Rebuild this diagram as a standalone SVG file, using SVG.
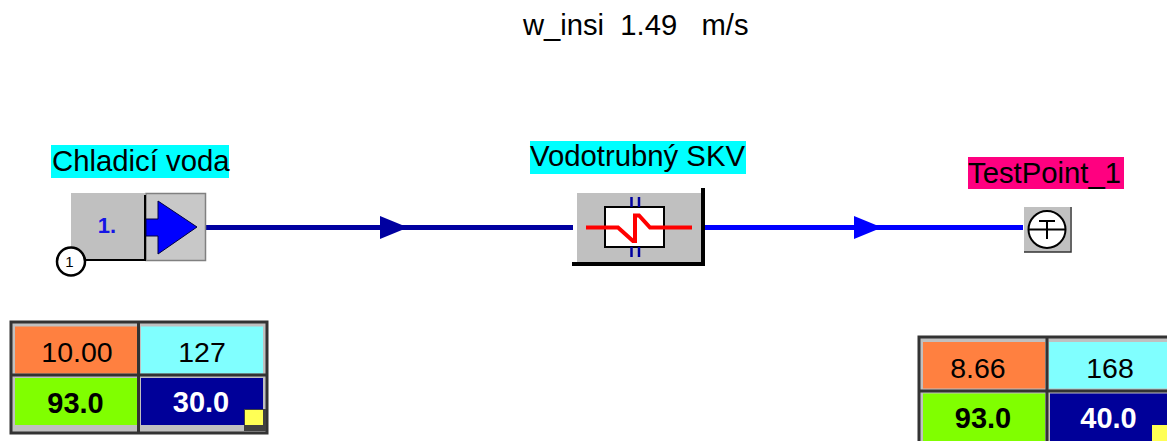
<svg xmlns="http://www.w3.org/2000/svg" width="1167" height="441" viewBox="0 0 1167 441">
<style>
text{font-family:"Liberation Sans",Arial,sans-serif;fill:#000}
.lbl{font-size:29.300px}
.val{font-size:28.500px;text-anchor:middle}
.b{font-size:29px;font-weight:bold}
.grid{fill:none;stroke:#333;stroke-width:3}
.panel{fill:#c0c0c0}
.dk{fill:none;stroke:#000;stroke-width:2}
</style>
<rect width="1167" height="441" fill="#fff"/>
<text id="title" x="523" y="35" font-size="29.200" xml:space="preserve">w_insi  1.49   m/s</text>
<g id="connectors">
<line x1="206" y1="227.500" x2="573" y2="227.500" stroke="#0000a0" stroke-width="5"/>
<polygon points="380,216 408,227.500 380,239" fill="#0000a0"/>
<line x1="705" y1="227.500" x2="1023" y2="227.500" stroke="#0000ff" stroke-width="5"/>
<polygon points="854,216 882,227.500 854,239" fill="#0000ff"/>
</g>
<g id="source">
<rect x="51" y="145" width="178" height="33" fill="#00ffff"/>
<text class="lbl" x="52" y="171">Chladicí voda</text>
<rect class="panel" x="71" y="193" width="74" height="67"/>
<rect x="146" y="193.500" width="59.500" height="67" fill="#c8c8c8" stroke="#808080" stroke-width="1.500"/>
<path class="dk" d="M145 195V260H85"/>
<text x="107" y="233" font-size="22" font-weight="bold" text-anchor="middle" style="fill:#1414e6">1.</text>
<polygon points="146,219 158,219 158,201 197,227 158,254 158,236 146,236" fill="#0000ff" stroke="#000040" stroke-width="1"/>
<circle cx="71" cy="261.500" r="14" fill="#fff" stroke="#000" stroke-width="2.500"/>
<text x="69.500" y="267" font-size="15" text-anchor="middle">1</text>
</g>
<g id="exchanger">
<rect x="530" y="141" width="216" height="33" fill="#00ffff"/>
<text class="lbl" x="530" y="166">Vodotrubný SKV</text>
<rect class="panel" x="577" y="193" width="124" height="69"/>
<path d="M572 264H703V188" fill="none" stroke="#000" stroke-width="4"/>
<rect x="605" y="207" width="59" height="40" fill="#fff" stroke="#000" stroke-width="2"/>
<path d="M631.500 197V207M639 197V207M631.500 247V257M639 247V257" stroke="#0000a0" stroke-width="2.500" fill="none"/>
<path d="M586 227.500H618L633 241H635V215.500H639L650 227.500H692" fill="none" stroke="#ff0000" stroke-width="4"/>
</g>
<g id="testpoint">
<rect x="968" y="157" width="156" height="32" fill="#ff0080"/>
<text class="lbl" x="968" y="183">TestPoint_1</text>
<rect class="panel" x="1024" y="207" width="46" height="45"/>
<path d="M1071 207V252H1024" fill="none" stroke="#333" stroke-width="1.500"/>
<circle cx="1047" cy="229.500" r="18.500" fill="#fff" stroke="#000" stroke-width="2"/>
<path d="M1028 229.500H1066M1039 221H1055M1047 221V239" fill="none" stroke="#000" stroke-width="2"/>
</g>
<g id="table-left">
<rect class="panel" x="11" y="322" width="256" height="111"/>
<rect x="15" y="326.500" width="122" height="47" fill="#ff8040"/>
<rect x="141" y="326.500" width="122" height="47" fill="#80ffff"/>
<rect x="15" y="378" width="122" height="47" fill="#80ff00"/>
<rect x="141" y="378" width="122" height="47" fill="#000099"/>
<path class="grid" d="M11 322H267V433H11ZM11 375H267M138.500 322V433"/>
<text class="val" x="77" y="362">10.00</text>
<text class="val" x="202" y="362">127</text>
<text class="val b" x="75.500" y="413">93.0</text>
<text class="val b" x="201" y="412" style="fill:#fff">30.0</text>
<rect x="244" y="409" width="22" height="22" fill="#404040"/>
<rect x="245" y="410" width="18" height="15" fill="#ffff55"/>
</g>
<g id="table-right">
<rect class="panel" x="919" y="337" width="248" height="104"/>
<rect x="923" y="342" width="122" height="46.500" fill="#ff8040"/>
<rect x="1049" y="342" width="118" height="46.500" fill="#80ffff"/>
<rect x="923" y="393.500" width="122" height="47.500" fill="#80ff00"/>
<rect x="1050" y="393.500" width="117" height="47.500" fill="#000099"/>
<path class="grid" d="M1167 337H919V441M919 391H1167M1047 337V441"/>
<text class="val" x="978" y="378">8.66</text>
<text class="val" x="1110" y="378">168</text>
<text class="val b" x="983" y="428">93.0</text>
<text class="val b" x="1108.500" y="428" style="fill:#fff">40.0</text>
<rect x="1152" y="425" width="15" height="16" fill="#ffff55"/>
</g>
</svg>
